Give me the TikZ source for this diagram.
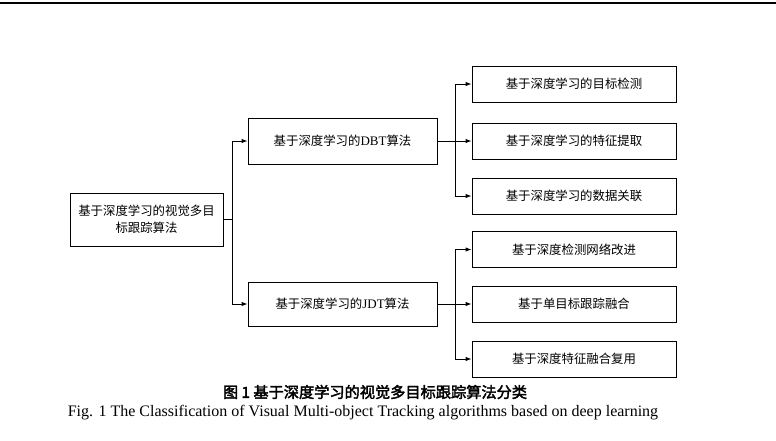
\documentclass[tikz,border=0pt]{standalone}
\usepackage{fontspec}
\setmainfont{Liberation Serif}
\newfontfamily\cjk{Noto Sans CJK SC}
\newfontfamily\cjkbold[FakeBold=2.5]{Noto Sans CJK SC}
\usetikzlibrary{arrows.meta}
\begin{document}
\begin{tikzpicture}[x=1pt,y=-1pt,
  box/.style={draw,line width=0.9pt,inner sep=0pt,font=\cjk\fontsize{12.4}{15}\selectfont,align=center},
  conn/.style={line width=0.9pt},
  arr/.style={line width=0.9pt,-{Latex[length=6pt,width=4.5pt]}}]
\useasboundingbox (0,0) rectangle (776,441);
\fill[white] (0,0) rectangle (776,441);
\draw[line width=2pt] (0,3) -- (776,3);
% boxes
\node[box,minimum width=153pt,minimum height=53pt,font=\cjk\fontsize{12.4}{17}\selectfont] (root) at (146.5,219.5) {基于深度学习的视觉多目\\标跟踪算法};
\node[box,minimum width=189pt,minimum height=46pt] (dbt) at (342.5,141) {基于深度学习的{\rmfamily\fontsize{13}{15}\selectfont DBT}算法};
\node[box,minimum width=189pt,minimum height=44pt] (jdt) at (342.5,304) {基于深度学习的{\rmfamily\fontsize{13}{15}\selectfont JDT}算法};
\node[box,minimum width=204pt,minimum height=36pt] (c1) at (574,84) {基于深度学习的目标检测};
\node[box,minimum width=204pt,minimum height=36pt] (c2) at (574,141) {基于深度学习的特征提取};
\node[box,minimum width=204pt,minimum height=36pt] (c3) at (574,196) {基于深度学习的数据关联};
\node[box,minimum width=204pt,minimum height=36pt] (c4) at (574,249.5) {基于深度检测网络改进};
\node[box,minimum width=204pt,minimum height=36pt] (c5) at (574,304) {基于单目标跟踪融合};
\node[box,minimum width=204pt,minimum height=36pt] (c6) at (574,359) {基于深度特征融合复用};
% junction coordinates
\coordinate (j0) at (232,219.5);
\coordinate (j1) at (455,141);
\coordinate (j2) at (455,304);
% connectors
\draw[conn] (root.east) -- (j0);
\draw[arr] (j0) |- (dbt.west);
\draw[arr] (j0) |- (jdt.west);
\draw[conn] (dbt.east) -- (j1);
\draw[arr] (j1) |- (c1.west);
\draw[arr] (j1) -- (c2.west);
\draw[arr] (j1) |- (c3.west);
\draw[conn] (jdt.east) -- (j2);
\draw[arr] (j2) |- (c4.west);
\draw[arr] (j2) -- (c5.west);
\draw[arr] (j2) |- (c6.west);
% caption
\node[font=\cjkbold\fontsize{15.2}{18}\selectfont] (cap1) at (375,392) {图 1 基于深度学习的视觉多目标跟踪算法分类};
\node[font=\fontsize{16}{19}\selectfont] (cap2) at (363,413) {Fig. 1 The Classification of Visual Multi-object Tracking algorithms based on deep learning};
\end{tikzpicture}
\end{document}
